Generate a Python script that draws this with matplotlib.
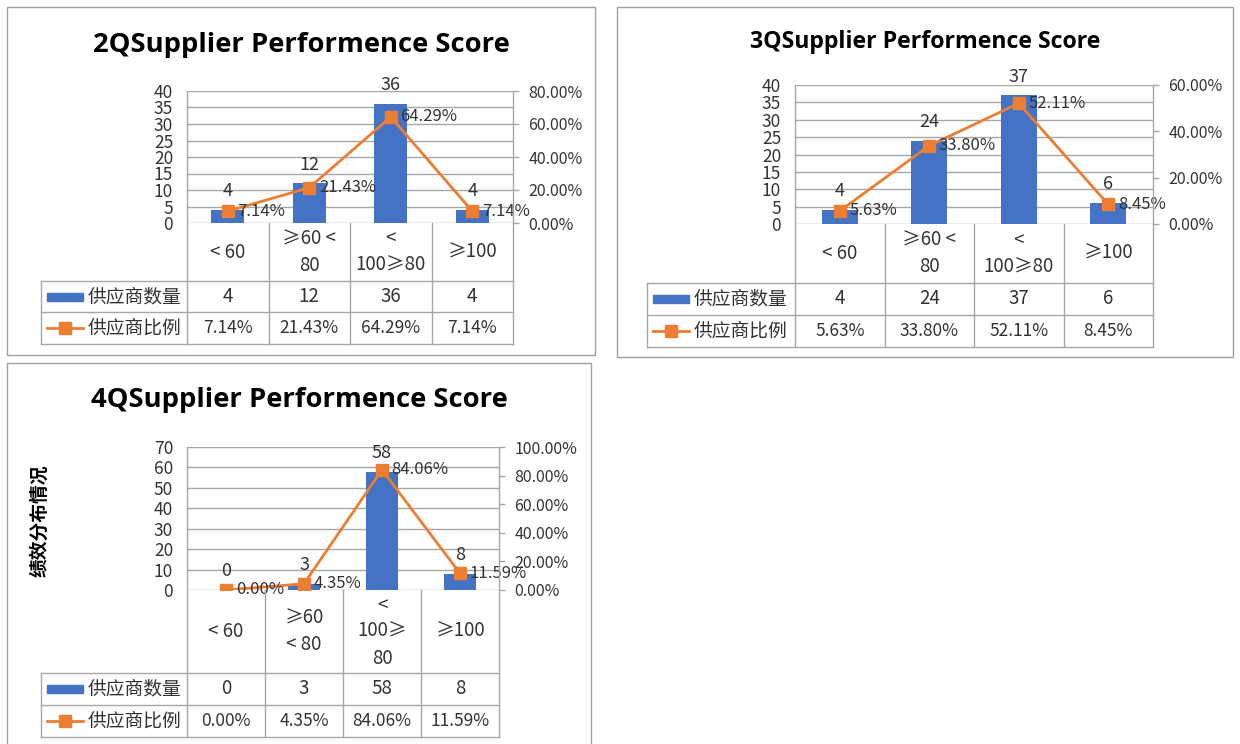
import matplotlib
matplotlib.use("Agg")
import matplotlib.pyplot as plt
from matplotlib.lines import Line2D
from matplotlib.patches import Rectangle

plt.rcParams["font.family"] = ["Noto Sans CJK SC", "DejaVu Sans"]

# ---- data -------------------------------------------------------------
series_names = ["供应商数量", "供应商比例"]

cats_2q = ["< 60", "≥60 <\n80", "<\n100≥80", "≥100"]
counts_2q = [4, 12, 36, 4]
share_2q = [7.14, 21.43, 64.29, 7.14]

cats_3q = ["< 60", "≥60 <\n80", "<\n100≥80", "≥100"]
counts_3q = [4, 24, 37, 6]
share_3q = [5.63, 33.80, 52.11, 8.45]

cats_4q = ["< 60", "≥60\n< 80", "<\n100≥\n80", "≥100"]
counts_4q = [0, 3, 58, 8]
share_4q = [0.00, 4.35, 84.06, 11.59]

W, H = 1240, 744
BLUE = "#4472C4"
ORANGE = "#ED7D31"
GRID = "#A6A6A6"
TXT = "#333333"

fig = plt.figure(figsize=(W / 100, H / 100), dpi=100)
fig.patch.set_facecolor("white")

# overlay in pixel coordinates for frames and the data tables
ov = fig.add_axes([0, 0, 1, 1])
ov.set_xlim(0, W)
ov.set_ylim(H, 0)
ov.axis("off")
ov.set_zorder(5)
ov.patch.set_alpha(0)


def panel(title, cats, counts, share, box, plot, rows, leg_left, title_y,
          title_size, ymax, ystep, pmax, pstep, ylabel=None):
    bx0, by0, bx1, by1 = box
    px0, py0, px1, py1 = plot
    ov.add_patch(Rectangle((bx0, by0), bx1 - bx0, by1 - by0, fill=False,
                           ec="#A0A0A0", lw=1))
    ov.text((bx0 + bx1) / 2, title_y, title, ha="center", va="center",
            fontsize=title_size, fontweight="bold", family="Open Sans",
            color="black")

    ax = fig.add_axes([px0 / W, 1 - py1 / H, (px1 - px0) / W, (py1 - py0) / H])
    x = list(range(len(cats)))
    ax.bar(x, counts, width=0.4, color=BLUE, zorder=2)
    ax.set_xlim(-0.5, len(cats) - 0.5)
    ax.set_ylim(0, ymax)
    ax.set_yticks(range(0, ymax + 1, ystep))
    ax.yaxis.grid(True, color=GRID, lw=1, zorder=0)
    ax.set_xticks([])
    for s in ax.spines.values():
        s.set_visible(False)
    ax.tick_params(axis="y", length=0, pad=10, labelsize=12.5, labelcolor=TXT)
    for i, v in enumerate(counts):
        ax.annotate(str(v), (i, v), xytext=(0, 10), textcoords="offset points",
                    ha="center", va="baseline", fontsize=13, color=TXT)

    ax2 = ax.twinx()
    ax2.plot(x, share, color=ORANGE, lw=2, marker="s", ms=8,
             mfc=ORANGE, mec=ORANGE, zorder=3)
    ax2.set_ylim(0, pmax)
    pt = list(range(0, pmax + 1, pstep))
    ax2.set_yticks(pt)
    ax2.set_yticklabels([f"{v:.2f}%" for v in pt])
    for s in ax2.spines.values():
        s.set_visible(False)
    ax2.tick_params(axis="y", length=4, width=1, color=GRID, pad=7,
                    labelsize=11.5, labelcolor=TXT)
    for i, v in enumerate(share):
        ax2.annotate(f"{v:.2f}%", (i, v), xytext=(7, 0),
                     textcoords="offset points", ha="left", va="center",
                     fontsize=12, color=TXT)

    # data table under the plot
    r0, r1, r2 = rows
    cw = (px1 - px0) / len(cats)
    lk = dict(color=GRID, lw=1)
    ov.plot([px0, px0], [py0, r2], **lk)
    ov.plot([px1, px1], [py0, r2], **lk)
    for i in range(1, len(cats)):
        ov.plot([px0 + i * cw] * 2, [py1, r2], **lk)
    for yy in (r0, r1, r2):
        ov.plot([leg_left, px1], [yy, yy], **lk)
    ov.plot([leg_left, leg_left], [r0, r2], **lk)

    for i, c in enumerate(cats):
        cx = px0 + (i + 0.5) * cw
        ov.text(cx, (py1 + r0) / 2, c, ha="center", va="center",
                fontsize=13.5, color=TXT, linespacing=1.35)
        ov.text(cx, (r0 + r1) / 2, str(counts[i]), ha="center", va="center",
                fontsize=13.5, color=TXT)
        ov.text(cx, (r1 + r2) / 2, f"{share[i]:.2f}%", ha="center",
                va="center", fontsize=12.5, color=TXT)

    ky0 = (r0 + r1) / 2
    ky1 = (r1 + r2) / 2
    ov.add_patch(Rectangle((leg_left + 6, ky0 - 4), 36, 8, color=BLUE))
    ov.add_line(Line2D([leg_left + 6, leg_left + 42], [ky1, ky1], color=ORANGE,
                       lw=2))
    ov.add_line(Line2D([leg_left + 24], [ky1], marker="s", ms=8, color=ORANGE))
    ov.text(leg_left + 47, ky0, series_names[0], ha="left", va="center",
            fontsize=13.5, color=TXT)
    ov.text(leg_left + 47, ky1, series_names[1], ha="left", va="center",
            fontsize=13.5, color=TXT)

    if ylabel:
        ov.text(bx0 + 33, (py0 + py1) / 2 + 2, ylabel, rotation=90,
                ha="center", va="center", fontsize=13.5, fontweight="bold",
                color="black")


panel("2QSupplier Performence Score", cats_2q, counts_2q, share_2q,
      box=(7, 7, 595, 355), plot=(187, 91, 513, 223), rows=(281, 312, 344),
      leg_left=41, title_y=45, title_size=19.7, ymax=40, ystep=5,
      pmax=80, pstep=20)

panel("3QSupplier Performence Score", cats_3q, counts_3q, share_3q,
      box=(617, 7, 1233, 357), plot=(795, 85, 1153, 224), rows=(283, 315, 347),
      leg_left=647, title_y=42, title_size=16.7, ymax=40, ystep=5,
      pmax=60, pstep=20)

panel("4QSupplier Performence Score", cats_4q, counts_4q, share_4q,
      box=(7, 363, 591, 760), plot=(187, 447, 499, 590), rows=(673, 705, 737),
      leg_left=41, title_y=400, title_size=19.7, ymax=70, ystep=10,
      pmax=100, pstep=20, ylabel="绩效分布情况")

fig.savefig("out.png", dpi=100, facecolor="white")
